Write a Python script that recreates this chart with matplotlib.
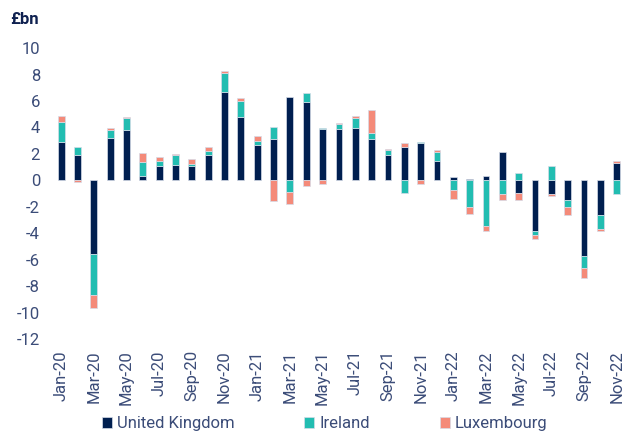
import numpy as np
import matplotlib.pyplot as plt

months = ["Jan-20", "Feb-20", "Mar-20", "Apr-20", "May-20", "Jun-20", "Jul-20", "Aug-20",
          "Sep-20", "Oct-20", "Nov-20", "Dec-20", "Jan-21", "Feb-21", "Mar-21", "Apr-21",
          "May-21", "Jun-21", "Jul-21", "Aug-21", "Sep-21", "Oct-21", "Nov-21", "Dec-21",
          "Jan-22", "Feb-22", "Mar-22", "Apr-22", "May-22", "Jun-22", "Jul-22", "Aug-22",
          "Sep-22", "Oct-22", "Nov-22"]

uk = [2.9, 1.9, -5.6, 3.2, 3.8, 0.35, 1.1, 1.15,
      1.1, 1.9, 6.7, 4.8, 2.7, 3.1, 6.3, 5.9,
      3.85, 3.85, 3.95, 3.1, 1.9, 2.5, 2.8, 1.5,
      0.25, 0.08, 0.3, 2.15, -0.95, -3.8, -1.05, -1.5,
      -5.75, -2.6, 1.35]
ireland = [1.55, 0.65, -3.1, 0.6, 0.9, 1.05, 0.35, 0.75,
           0.1, 0.35, 1.45, 1.2, 0.25, 0.9, -0.85, 0.7,
           0.1, 0.4, 0.75, 0.5, 0.4, -0.95, 0.1, 0.65,
           -0.75, -2.0, -3.45, -1.0, 0.55, -0.35, 1.05, -0.55,
           -0.9, -1.05, -1.0]
luxembourg = [0.4, -0.1, -0.95, 0.15, 0.1, 0.7, 0.3, 0.1,
              0.4, 0.25, 0.15, 0.2, 0.4, -1.6, -0.95, -0.45,
              -0.3, 0.1, 0.15, 1.7, 0.1, 0.35, -0.3, 0.15,
              -0.65, -0.55, -0.35, -0.5, -0.5, -0.25, -0.1, -0.55,
              -0.75, -0.2, 0.15]

series = [("United Kingdom", uk, "#001f50"),
          ("Ireland", ireland, "#22bdb1"),
          ("Luxembourg", luxembourg, "#f48a79")]

plt.rcParams['font.family'] = ['Roboto', 'DejaVu Sans']
plt.rcParams['axes.unicode_minus'] = False
text_col = "#3b4c78"

fig = plt.figure(figsize=(6.3, 4.34), dpi=100)
ax = fig.add_axes([0.079, 0.219, 0.918, 0.670])

x = np.arange(len(months))
pos_base = np.zeros(len(months))
neg_base = np.zeros(len(months))
for name, vals, col in series:
    v = np.array(vals)
    bottom = np.where(v >= 0, pos_base, neg_base)
    ax.bar(x, v, width=0.42, bottom=bottom, color=col, label=name,
           edgecolor="#d6dce8", linewidth=0.5)
    pos_base += np.where(v >= 0, v, 0)
    neg_base += np.where(v < 0, v, 0)

ax.set_xlim(-0.7, len(months) - 0.3)
ax.set_ylim(-12, 10)
ax.set_yticks(np.arange(-12, 11, 2))
ax.set_xticks(x[::2])
ax.set_xticklabels(months[::2], rotation=90)
for s in ax.spines.values():
    s.set_visible(False)
ax.tick_params(length=0, labelsize=12, colors=text_col)
ax.tick_params(axis='y', pad=7)
ax.tick_params(axis='x', pad=8)

fig.text(0.016, 0.955, "£bn", fontsize=12, fontweight='bold', color="#0f2150",
         va='center', ha='left')

fig.legend(loc='center', bbox_to_anchor=(0.515, 0.024), ncol=3, frameon=False,
           fontsize=12, handlelength=0.6, handleheight=0.6, handletextpad=0.3,
           columnspacing=4.2, labelcolor=text_col)

fig.savefig("out.png", dpi=100)
